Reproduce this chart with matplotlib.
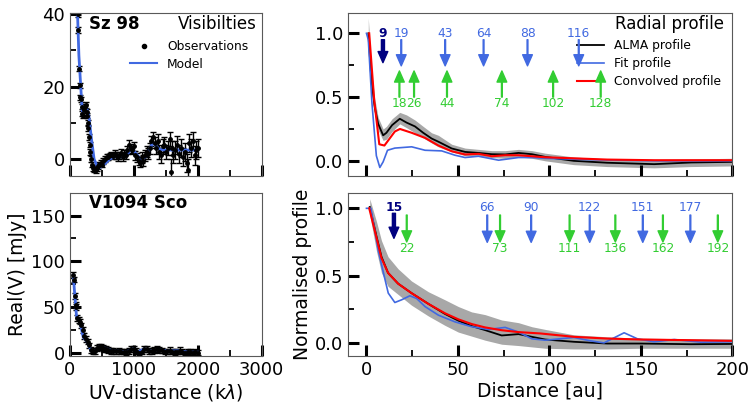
import numpy as np
import matplotlib
matplotlib.use("Agg")
import matplotlib.pyplot as plt
from matplotlib.lines import Line2D

# ---- Sz 98 visibilities ----
sz_uv = [120, 125, 135, 150, 165, 175, 185, 195, 205, 215, 230, 245, 260, 270, 280, 290, 300, 310,
         320, 335, 350, 365, 380, 400, 420, 440, 460, 480, 500, 525, 550, 575, 600, 625, 650, 675,
         700, 725, 750, 775, 800, 825, 850, 875, 900, 925, 950, 975, 1000, 1025, 1050, 1075, 1100,
         1125, 1150, 1175, 1200, 1225, 1250, 1275, 1300, 1325, 1350, 1375, 1400, 1425, 1450, 1475,
         1500, 1530, 1560, 1581, 1600, 1620, 1650, 1680, 1710, 1740, 1770, 1800, 1830, 1851, 1860,
         1890, 1920, 1950, 1980, 2000]
sz_re = [40, 35.5, 24.9, 20.3, 17, 16.5, 14.5, 12.5, 12, 13.5, 14.5, 15, 13, 12, 10, 8.5, 6, 4,
         2, 0, -1.5, -2.5, -2.8, -3, -2.5, -2, -1.5, -1, -1.5, -0.5, 0, 0.5, 0.5, 1, 1.2, 0.8,
         1.5, 1, 0.5, 1, 1.8, 0.5, 1.5, 1, 2.5, 4, 3, 2.5, 3.5, 1, 0.5, -0.5, -1,
         0.5, -0.5, 1, 2, 1.5, 3, 5, 6, 4.5, 3, 5, 2, 1, 3.5, 4,
         2, 3, 5.5, -3.5, 3, 1, 2.5, 4, 1.5, 3, 0.5, 2, -1, -3, 4.5,
         3, 5, 1, 2.5, 3]
sz_err = [0.8, 0.8, 0.7, 0.7, 0.7, 0.7, 0.7, 0.7, 0.7, 0.8, 0.8, 0.8, 0.8, 0.8, 0.8, 0.8, 0.8, 0.8,
          0.8, 0.8, 0.8, 0.8, 0.8, 0.8, 0.8, 0.8, 0.8, 0.8, 0.8, 0.8, 0.8, 0.8, 0.8, 0.8, 0.8, 0.8,
          1.0, 1.0, 1.0, 1.0, 1.0, 1.0, 1.0, 1.0, 1.0, 1.2, 1.2, 1.2, 1.2, 1.2, 1.2, 1.2, 1.2,
          1.5, 1.5, 1.5, 1.5, 1.5, 1.5, 1.5, 1.5, 1.5, 1.5, 2, 2, 2, 2, 2,
          2, 2, 2, 3.5, 2, 2, 2.5, 2.5, 2.5, 2.5, 2.5, 2.5, 2.5, 3, 2.5,
          2.5, 2.5, 2.5, 2.5, 2.5]
sz_model_uv = [119, 140, 171, 192, 223, 259, 295, 337, 378, 441, 518, 622, 726, 830, 881, 959,
               1021, 1115, 1192, 1296, 1400, 1477, 2000]
sz_model = [40, 28.6, 19.4, 13.3, 13, 14.3, 12, 5.5, 0, -2.6, -1.8, 0, 0.8, 0.5, 0.8, 2.9,
            1.8, -0.2, 0.8, 4.5, 2.7, 2.5, 2.5]

# ---- V1094 Sco visibilities ----
v_uv = [52, 60, 78, 90, 100, 115, 140, 160, 180, 200, 220, 250, 275, 300, 330, 360, 390, 420, 450,
        480, 510, 540, 570, 600, 640, 680, 720, 760, 800, 840, 880, 920, 960, 1000, 1040, 1080,
        1120, 1160, 1200, 1240, 1280, 1320, 1360, 1400, 1440, 1480, 1520, 1560, 1600, 1640, 1680,
        1720, 1760, 1800, 1840, 1880, 1920, 1960, 2000]
v_re = [85, 80, 62, 52, 50, 38, 36, 34, 30, 25, 18, 15, 12, 8, 3, 1, 2, 5, 6,
        7, 5, 4, 4, 3, 2, 2, 1.5, 2, 1, 1, 0.5, 2, 4, 4, 2, 0,
        1, 4, 4, 2, 2, 3, 4, 3, 2.5, 1, 1.5, 2, 1, 0.5, 1,
        2, 1, 0, 1, 0.5, 0, 0.5, 0]
v_err = [3, 3, 3, 3, 3, 3, 3, 3, 3, 3, 3, 3, 3, 3, 3, 3, 3, 3, 3,
         3, 3, 3, 3, 3, 3, 3, 3, 3, 3, 3, 3, 3, 3, 3, 3, 3,
         3, 3, 3, 3, 3, 3, 3, 3, 3, 3, 3, 4, 3, 3, 3,
         4, 3, 3, 3, 3, 3, 3, 3]
v_model_uv = [52, 78, 104, 156, 207, 275, 327, 378, 467, 570, 674, 778, 881, 985, 1052, 1166,
              1280, 1400, 1529, 1685, 1840, 1996]
v_model = [84.8, 61, 39, 33.6, 17, 11.6, 2.5, 0.7, 6.9, 4.4, 1.8, 1.8, 0.7, 4.4, 0.5, 4.4,
           1.8, 3, 1.8, 2, 0.7, 0.5]

# ---- Sz 98 radial profile ----
sz_r_alma = [1, 2.7, 4.5, 6.4, 9.1, 10.9, 14, 18.2, 21.9, 26.5, 31, 35.6, 39.3, 46.6, 53.9, 61.2,
             68.5, 75.8, 83.1, 90.4, 97.7, 113.3, 131.6, 157.2, 177.3, 200]
sz_alma = [1.0, 0.63, 0.42, 0.29, 0.20, 0.22, 0.28, 0.33, 0.30, 0.27, 0.22, 0.175, 0.15, 0.097,
           0.07, 0.062, 0.052, 0.05, 0.062, 0.052, 0.031, 0.0, -0.015, -0.026, -0.013, -0.008]
sz_alma_hi = [1.12, 0.72, 0.49, 0.34, 0.25, 0.27, 0.33, 0.38, 0.36, 0.32, 0.27, 0.22, 0.20, 0.13,
              0.10, 0.09, 0.08, 0.08, 0.09, 0.08, 0.06, 0.03, 0.015, 0.01, 0.015, 0.02]
sz_alma_lo = [0.9, 0.55, 0.36, 0.24, 0.16, 0.17, 0.23, 0.29, 0.26, 0.22, 0.18, 0.14, 0.11, 0.07,
              0.04, 0.035, 0.025, 0.02, 0.03, 0.02, 0.0, -0.03, -0.045, -0.055, -0.045, -0.04]
sz_r_conv = [1.5, 4.2, 7, 9.8, 15.5, 18.3, 24.7, 32, 39.3, 46.6, 53.9, 61.2, 68.5, 75.8, 83.1,
             90.4, 97.7, 131.6, 157, 200]
sz_conv = [1.0, 0.48, 0.13, 0.12, 0.23, 0.25, 0.22, 0.18, 0.12, 0.075, 0.05, 0.055, 0.036, 0.044,
           0.044, 0.036, 0.028, 0.01, 0.005, 0.005]
sz_r_fit = [0, 1, 3, 5.4, 7.3, 9.1, 11.5, 15.5, 24.7, 32, 41.1, 48.4, 53.9, 61.2, 72.2, 83.1,
            90.4, 97.7, 120, 160, 200]
sz_fit = [1.0, 0.95, 0.45, 0.04, -0.052, -0.008, 0.083, 0.10, 0.11, 0.083, 0.078, 0.044, 0.026,
          0.036, 0.005, 0.026, 0.026, 0.02, 0.01, 0.0, 0.0]
sz_blue_rings = [19, 43, 64, 88, 116]
sz_green_gaps = [18, 26, 44, 74, 102, 128]
sz_main_ring = 9

# ---- V1094 Sco radial profile ----
v_r_alma = [1.8, 5.5, 8.2, 11.8, 17.3, 24.6, 33.8, 42.9, 50.2, 57.5, 64.8, 73.9, 83.1, 90.4,
            97.7, 113.3, 131.6, 150, 177.3, 200]
v_alma = [1.01, 0.79, 0.64, 0.52, 0.44, 0.37, 0.29, 0.215, 0.165, 0.125, 0.095, 0.055, 0.065,
          0.045, 0.025, 0.008, -0.005, -0.005, -0.01, -0.008]
v_alma_hi = [1.07, 0.90, 0.76, 0.64, 0.55, 0.46, 0.38, 0.32, 0.27, 0.23, 0.21, 0.17, 0.15, 0.12,
             0.10, 0.06, 0.045, 0.035, 0.03, 0.03]
v_alma_lo = [0.95, 0.68, 0.52, 0.42, 0.36, 0.28, 0.20, 0.13, 0.08, 0.05, 0.02, -0.01, -0.02,
             -0.03, -0.04, -0.045, -0.045, -0.04, -0.04, -0.04]
v_r_conv = [1.5, 5.5, 8.2, 11.8, 17.3, 24.6, 33.8, 42.9, 50.2, 57.5, 64.8, 73.9, 83.1, 95,
            113.3, 131.6, 150, 177.3, 200]
v_conv = [1.0, 0.78, 0.63, 0.52, 0.44, 0.37, 0.29, 0.22, 0.175, 0.14, 0.115, 0.094, 0.08, 0.07,
          0.045, 0.032, 0.025, 0.02, 0.015]
v_r_fit = [0, 2.4, 6.4, 9.1, 11.9, 15.5, 19.2, 23.7, 27.4, 32, 39.3, 48.4, 57.5, 66.6, 75.8,
           83.1, 90.4, 97.7, 113.3, 122.5, 129.8, 140.8, 148.1, 157.2, 168.2, 182.8, 200]
v_fit = [1.0, 1.0, 0.69, 0.53, 0.37, 0.30, 0.32, 0.35, 0.33, 0.27, 0.206, 0.156, 0.12, 0.10,
         0.115, 0.08, 0.03, 0.02, 0.04, 0.015, 0.0, 0.075, 0.03, 0.008, 0.025, 0.005, 0.008]
v_blue_rings = [66, 90, 122, 151, 177]
v_green_gaps = [22, 73, 111, 136, 162, 192]
v_main_ring = 15

BLUE = '#4169E1'
GREEN = '#32CD32'
NAVY = '#000080'
SMALL = 8.8

fig = plt.figure(figsize=(7.52, 4.04), dpi=100)
ax1 = fig.add_axes([0.093, 0.564, 0.255, 0.404])
ax2 = fig.add_axes([0.093, 0.118, 0.255, 0.405])
ax3 = fig.add_axes([0.463, 0.564, 0.511, 0.404])
ax4 = fig.add_axes([0.463, 0.118, 0.511, 0.405])

for ax in (ax1, ax2, ax3, ax4):
    ax.minorticks_on()
    ax.tick_params(which='major', direction='in', length=8, width=2.2, labelsize=13,
                   top=False, right=False)
    ax.tick_params(which='minor', direction='in', length=4.5, width=1.3, top=False, right=False)
    for s in ax.spines.values():
        s.set_linewidth(0.8)
        s.set_color('0.35')

# visibilities
ax1.errorbar(sz_uv, sz_re, yerr=sz_err, fmt='o', color='k', ms=2.5, elinewidth=1, capsize=2)
ax1.plot(sz_model_uv, sz_model, color=BLUE, lw=2)
ax1.set_xlim(0, 3000)
ax1.set_ylim(-4.7, 40.3)
ax1.set_xticks([0, 1000, 2000, 3000])
ax1.set_xticks([500, 1500, 2500], minor=True)
ax1.set_yticks([0, 20, 40])
ax1.set_yticks([10, 30], minor=True)
ax1.set_xticklabels([])
ax1.text(0.1, 0.93, 'Sz 98', transform=ax1.transAxes, fontsize=12, fontweight='bold', va='center')
ax1.text(0.975, 0.93, 'Visibilties', transform=ax1.transAxes, fontsize=12, ha='right', va='center')
handles = [Line2D([], [], color='k', marker='o', ms=3, ls='none'),
           Line2D([], [], color=BLUE, lw=1.5)]
ax1.legend(handles, ['Observations', 'Model'], loc='upper right', bbox_to_anchor=(0.93, 0.835),
           frameon=False, fontsize=SMALL, handlelength=2.2, borderpad=0, borderaxespad=0,
           labelspacing=0.4)

ax2.errorbar(v_uv, v_re, yerr=v_err, fmt='o', color='k', ms=2.5, elinewidth=1, capsize=2)
ax2.plot(v_model_uv, v_model, color=BLUE, lw=2)
ax2.set_xlim(0, 3000)
ax2.set_ylim(-4, 175)
ax2.set_xticks([0, 1000, 2000, 3000])
ax2.set_xticks([500, 1500, 2500], minor=True)
ax2.set_yticks([0, 50, 100, 150])
ax2.set_yticks([25, 75, 125], minor=True)
ax2.text(0.1, 0.937, 'V1094 Sco', transform=ax2.transAxes, fontsize=12, fontweight='bold',
         va='center')
ax2.set_xlabel('UV-distance (k$\\lambda$)', fontsize=13.5, labelpad=2)
ax2.set_ylabel('Real(V) [mJy]', fontsize=13.5, labelpad=3)


def arrow(ax, x, tail, tip, color, width):
    ax.annotate('', xy=(x, tip), xytext=(x, tail), zorder=6,
                arrowprops=dict(color=color, width=width, headwidth=7, headlength=8, shrink=0))


def label(ax, x, y, color, bold=False):
    ax.text(x, y, str(x), color=color, fontsize=SMALL, ha='center', va='center', zorder=6,
            fontweight='bold' if bold else 'normal')


# radial profiles
ax3.fill_between(sz_r_alma, sz_alma_lo, sz_alma_hi, color='0.6', alpha=0.85, lw=0)
ax3.plot(sz_r_alma, sz_alma, color='k', lw=1.3, label='ALMA profile')
ax3.plot(sz_r_fit, sz_fit, color=BLUE, lw=1.2, label='Fit profile')
ax3.plot(sz_r_conv, sz_conv, color='red', lw=1.5, label='Convolved profile')
arrow(ax3, sz_main_ring, 0.95, 0.77, NAVY, 2.2)
label(ax3, sz_main_ring, 1.0, NAVY, bold=True)
for r in sz_blue_rings:
    arrow(ax3, r, 0.95, 0.745, BLUE, 0.6)
    label(ax3, r, 1.0, BLUE)
for g in sz_green_gaps:
    arrow(ax3, g, 0.50, 0.705, GREEN, 0.6)
    label(ax3, g, 0.45, GREEN)
ax3.set_xlim(-10, 200)
ax3.set_ylim(-0.12, 1.16)
ax3.set_xticks([0, 50, 100, 150, 200])
ax3.set_xticks([25, 75, 125, 175], minor=True)
ax3.set_yticks([0, 0.5, 1.0])
ax3.set_yticks([0.25, 0.75], minor=True)
ax3.set_xticklabels([])
ax3.text(0.977, 0.935, 'Radial profile', transform=ax3.transAxes, fontsize=12, ha='right',
         va='center')
leg = ax3.legend(loc='upper right', bbox_to_anchor=(0.969, 0.84), frameon=False, fontsize=SMALL,
                 handlelength=2.2, borderpad=0, borderaxespad=0, labelspacing=0.4)
leg.set_zorder(2.5)

ax4.fill_between(v_r_alma, v_alma_lo, v_alma_hi, color='0.6', alpha=0.85, lw=0)
ax4.plot(v_r_alma, v_alma, color='k', lw=1.3)
ax4.plot(v_r_fit, v_fit, color=BLUE, lw=1.2)
ax4.plot(v_r_conv, v_conv, color='red', lw=1.5)
arrow(ax4, v_main_ring, 0.963, 0.777, NAVY, 2.2)
label(ax4, v_main_ring, 1.007, NAVY, bold=True)
for r in v_blue_rings:
    arrow(ax4, r, 0.95, 0.747, BLUE, 0.6)
    label(ax4, r, 1.007, BLUE)
for g in v_green_gaps:
    arrow(ax4, g, 0.95, 0.75, GREEN, 0.6)
    label(ax4, g, 0.70, GREEN)
ax4.set_xlim(-10, 200)
ax4.set_ylim(-0.1, 1.116)
ax4.set_xticks([0, 50, 100, 150, 200])
ax4.set_xticks([25, 75, 125, 175], minor=True)
ax4.set_yticks([0, 0.5, 1.0])
ax4.set_yticks([0.25, 0.75], minor=True)
ax4.set_xlabel('Distance [au]', fontsize=13.5, labelpad=2)
ax4.set_ylabel('Normalised profile', fontsize=13.5, labelpad=2)

fig.savefig('out.png', dpi=100)
